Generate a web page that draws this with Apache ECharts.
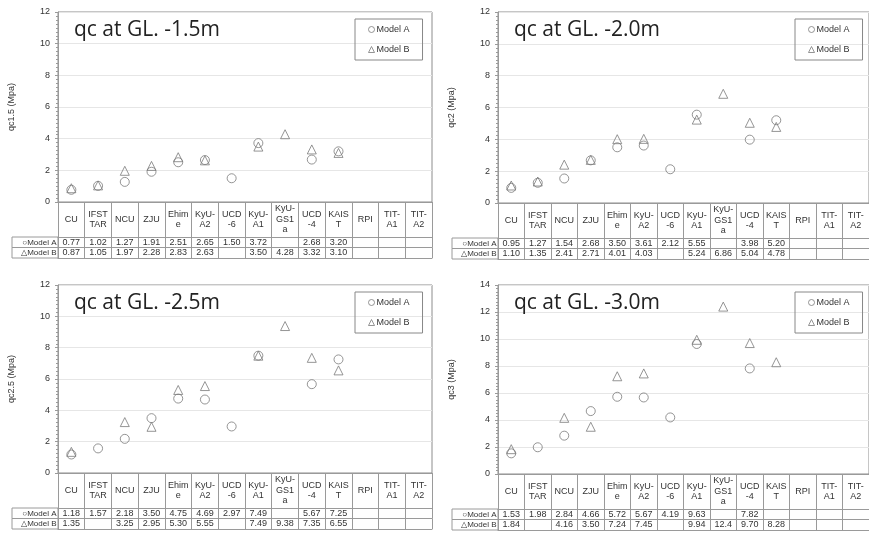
<!DOCTYPE html>
<html><head><meta charset="utf-8">
<script src="https://cdn.jsdelivr.net/npm/echarts@6/dist/echarts.min.js"></script>
<style>html,body{margin:0;padding:0;background:#fff}#c{width:869px;height:534px}</style>
</head><body><div id="c"></div>
<script>
// ---- data ----
const categories = ['CU','IFSTTAR','NCU','ZJU','Ehime','KyU-A2','UCD-6','KyU-A1','KyU-GS1a','UCD-4','KAIST','RPI','TIT-A1','TIT-A2'];
const headerLabels = ['CU','IFST\nTAR','NCU','ZJU','Ehim\ne','KyU-\nA2','UCD\n-6','KyU-\nA1','KyU-\nGS1\na','UCD\n-4','KAIS\nT','RPI','TIT-\nA1','TIT-\nA2'];
const seriesNames = ['Model A','Model B'];
const rowLabels = ['\u25CBModel A','\u25B3Model B'];
const titles = ['qc at GL. -1.5m','qc at GL. -2.0m','qc at GL. -2.5m','qc at GL. -3.0m'];
const yNames = ['qc1.5 (Mpa)','qc2 (Mpa)','qc2.5 (Mpa)','qc3 (Mpa)'];
const yMax = [12,12,12,14];
const yInterval = 2;

const modelA_15 = [0.77,1.02,1.27,1.91,2.51,2.65,1.50,3.72,null,2.68,3.20,null,null,null];
const modelB_15 = [0.87,1.05,1.97,2.28,2.83,2.63,null,3.50,4.28,3.32,3.10,null,null,null];
const modelA_20 = [0.95,1.27,1.54,2.68,3.50,3.61,2.12,5.55,null,3.98,5.20,null,null,null];
const modelB_20 = [1.10,1.35,2.41,2.71,4.01,4.03,null,5.24,6.86,5.04,4.78,null,null,null];
const modelA_25 = [1.18,1.57,2.18,3.50,4.75,4.69,2.97,7.49,null,5.67,7.25,null,null,null];
const modelB_25 = [1.35,null,3.25,2.95,5.30,5.55,null,7.49,9.38,7.35,6.55,null,null,null];
const modelA_30 = [1.53,1.98,2.84,4.66,5.72,5.67,4.19,9.63,null,7.82,null,null,null,null];
const modelB_30 = [1.84,null,4.16,3.50,7.24,7.45,null,9.94,12.4,9.70,8.28,null,null,null];

const panelData = [[modelA_15,modelB_15],[modelA_20,modelB_20],[modelA_25,modelB_25],[modelA_30,modelB_30]];

// ---- layout ----
const panels = [
  {left:58, top:12, width:374, height:190},
  {left:498, top:12, width:371, height:191},
  {left:58, top:285, width:374, height:188},
  {left:498, top:285, width:371, height:189}
];
const headerH = 35, rowH = 10.5;
const lineC = '#9a9a9a';
const markC = '#7a7a7a';
const txtC = '#333';
const font = 'Liberation Sans, Arial, sans-serif';

function fmt(v){ if (v === null || v === undefined) return ''; return v >= 10 ? v.toFixed(1) : v.toFixed(2); }

const grid = [], xAxis = [], yAxis = [], series = [], title = [], legend = [], graphic = [];

panels.forEach((p, pi) => {
  grid.push({left:p.left, top:p.top, width:p.width, height:p.height, show:true, borderColor:'#8c8c8c', borderWidth:1, backgroundColor:'transparent'});
  const base = {type:'category', gridIndex:pi, data:categories, position:'bottom', boundaryGap:true,
    splitLine:{show:false}};
  // header row axis
  xAxis.push(Object.assign({}, base, {
    axisLine:{show:true, lineStyle:{color:lineC}},
    axisTick:{show:true, interval:0, length:headerH, lineStyle:{color:lineC}},
    axisLabel:{interval:0, margin:headerH/2, verticalAlign:'middle', lineHeight:10.5, fontSize:9, color:txtC, fontFamily:font,
      formatter:(v,i)=>headerLabels[i]}
  }));
  // model rows
  [0,1].forEach(r => {
    const arr = panelData[pi][r];
    xAxis.push(Object.assign({}, base, {
      offset: headerH + r*rowH,
      axisLine:{show:true, lineStyle:{color:lineC}},
      axisTick:{show:true, interval:0, length:rowH, lineStyle:{color:lineC}},
      axisLabel:{interval:0, margin:rowH/2, verticalAlign:'middle', fontSize:9, color:txtC, fontFamily:font,
        formatter:(v,i)=>fmt(arr[i])}
    }));
  });
  // bottom border of table
  xAxis.push(Object.assign({}, base, {
    offset: headerH + 2*rowH,
    axisLine:{show:true, lineStyle:{color:lineC}},
    axisTick:{show:false}, axisLabel:{show:false}
  }));
  yAxis.push({type:'value', gridIndex:pi, min:0, max:yMax[pi], interval:yInterval,
    name:yNames[pi], nameLocation:'middle', nameGap:42,
    nameTextStyle:{fontSize:9, color:txtC, fontFamily:font},
    axisLine:{show:true, lineStyle:{color:lineC}},
    axisTick:{show:true, length:3, lineStyle:{color:lineC}},
    minorTick:{show:true, splitNumber:8, length:2, lineStyle:{color:lineC}},
    minorSplitLine:{show:false},
    axisLabel:{fontSize:9, color:txtC, margin:8, fontFamily:font},
    splitLine:{show:true, lineStyle:{color:'#e6e6e6'}}
  });
  seriesNames.forEach((nm, si) => {
    series.push({type:'scatter', name:nm, xAxisIndex:pi*4, yAxisIndex:pi,
      symbol: si === 0 ? 'circle' : 'triangle', symbolSize: 9,
      itemStyle:{color:'rgba(0,0,0,0)', borderColor:markC, borderWidth:1},
      emphasis:{disabled:true},
      data: panelData[pi][si].map((v, i) => v === null ? null : [categories[i], v])
        .filter(d => d !== null)
    });
  });
  title.push({text:titles[pi], left:p.left+16, top:p.top+8, padding:0,
    textStyle:{fontFamily:'Open Sans, Noto Sans, sans-serif', fontSize:21, fontWeight:'normal', color:'#222'}});
  legend.push({orient:'vertical', left:p.left+297, top:p.top+7, selectedMode:false,
    data:[{name:'Model A', icon:'circle'},{name:'Model B', icon:'triangle'}],
    itemWidth:6, itemHeight:6, itemGap:11, padding:[6,13,6,13],
    borderColor:'#888', borderWidth:1,
    itemStyle:{color:'rgba(0,0,0,0)', borderColor:markC, borderWidth:1},
    textStyle:{fontSize:9, color:txtC, fontFamily:font, padding:[0,0,0,-3]}});
  const zeroY = p.top + p.height;
  rowLabels.forEach((lbl, r) => {
    const y0 = zeroY + headerH + r*rowH;
    graphic.push({type:'rect', shape:{x:p.left-46, y:y0, width:46, height:rowH},
      style:{fill:'none', stroke:lineC, lineWidth:1}});
    graphic.push({type:'text', x:p.left-1.5, y:y0+rowH/2+0.5,
      style:{text:lbl, fontSize:8, fontFamily:font, fill:txtC, verticalAlign:'middle', align:'right'}});
  });
});

const chart = echarts.init(document.getElementById('c'), null, {renderer:'canvas'});
chart.setOption({animation:false, backgroundColor:'#fff', grid, xAxis, yAxis, series, title, legend, graphic});
</script>
</body></html>
